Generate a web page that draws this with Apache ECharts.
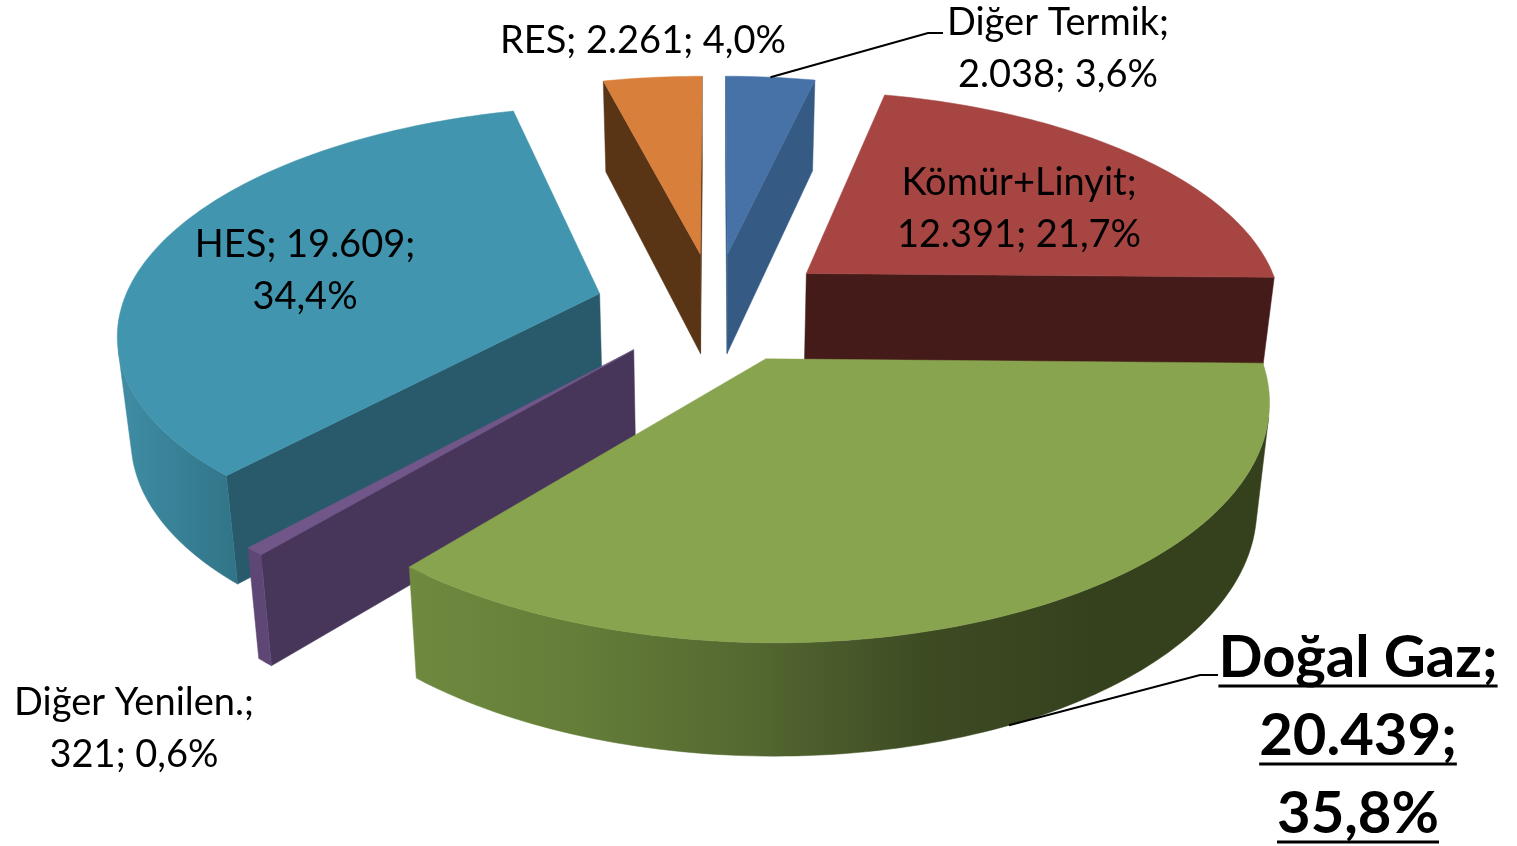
<!DOCTYPE html>
<html>
<head>
<meta charset="utf-8">
<title>Kurulu güç</title>
<style>
  html, body { margin: 0; padding: 0; background: #fff; }
  #main { width: 1517px; height: 846px; }
</style>
<script src="https://cdn.jsdelivr.net/npm/echarts@6/dist/echarts.min.js"></script>
</head>
<body>
<div id="main"></div>
<script>
const categories = ['Diğer Termik', 'Kömür+Linyit', 'Doğal Gaz', 'Diğer Yenilen.', 'HES', 'RES']
const values = [2038, 12391, 20439, 321, 19609, 2261]
const valueLabels = ['2.038', '12.391', '20.439', '321', '19.609', '2.261']
const percentLabels = ['3,6%', '21,7%', '35,8%', '0,6%', '34,4%', '4,0%']

// colours per slice: top, cut face, outer wall gradient
const topColors = ['#4672A8', '#A64542', '#89A44E', '#715689', '#4195AE', '#D8803B']
const cutColors = ['#355B85', '#451B1A', '#3A461F', '#47365A', '#285A6B', '#593516']
const wallColors = [
  ['#355B85', '#355B85'],
  ['#451B1A', '#451B1A'],
  ['#6F8A3F', '#647D38', '#546831', '#3D4B23', '#35411D', '#35411D'],
  ['#5E4775', '#5E4775'],
  ['#3F8DA5', '#317487'],
  ['#593516', '#593516']
]

// label layout: centre x, centre y of first line, how the tokens split on lines
const labelLayout = [
  { x: 1058, y: 22.5, lines: [[0], [1, 2]], size: 38 },
  { x: 1019, y: 182.5, lines: [[0], [1, 2]], size: 38 },
  { x: 1358, y: 658, lines: [[0], [1], [2]], size: 58, bold: true, lineH: 78 },
  { x: 134, y: 702.5, lines: [[0], [1, 2]], size: 38 },
  { x: 305, y: 244.5, lines: [[0, 1], [2]], size: 38 },
  { x: 643, y: 40.5, lines: [[0, 1, 2]], size: 38 }
]
const leaderElbows = { 0: [[928, 33], [943, 33]], 2: [[1200, 675], [1218, 675]] }

// projection of the tilted pie
const cx = 714.5
const cy = 331
const radiusX = 486
const radiusY = 228.6
const persp = 0.16
const explode = 0.25
const centerV = -0.108
const depthBase = 161
const depthSlope = 58
const bottomShrink = 0.977

const total = values.reduce((a, b) => a + b, 0)
const angles = []
let acc = 0
values.forEach(v => {
  const start = acc / total * Math.PI * 2
  acc += v
  angles.push([start, acc / total * Math.PI * 2])
})

function project(u, v) {
  const w = 1 - persp * v
  return { x: cx + radiusX * u / w, y: cy + radiusY * v / w, w: w }
}
function topPoint(p) {
  return [p.x, p.y]
}
function bottomPoint(p) {
  return [cx + (p.x - cx) * bottomShrink, p.y + depthBase - depthSlope * p.w]
}
function sliceApex(i) {
  const mid = (angles[i][0] + angles[i][1]) / 2
  return [explode * Math.sin(mid), centerV - explode * Math.cos(mid)]
}
function rimAt(i, a) {
  const apex = sliceApex(i)
  return project(apex[0] + Math.sin(a), apex[1] - Math.cos(a))
}
function area(pts) {
  let s = 0
  pts.forEach((p, k) => {
    const q = pts[(k + 1) % pts.length]
    s += p[0] * q[1] - q[0] * p[1]
  })
  return s / 2
}
function poly(points, fill) {
  return {
    type: 'polygon',
    shape: { points: points },
    style: { fill: fill, stroke: fill, lineWidth: 0.5 }
  }
}
function wallFill(stops) {
  return new echarts.graphic.LinearGradient(0, 0, 1, 0,
    stops.map((c, k) => ({ offset: k / (stops.length - 1), color: c })))
}

function renderSlice(params, api) {
  const i = api.value(0)
  const apexP = sliceApex(i)
  const apex = project(apexP[0], apexP[1])
  const start = angles[i][0]
  const end = angles[i][1]
  const steps = Math.max(4, Math.ceil((end - start) / 0.02))
  const rim = []
  for (let k = 0; k <= steps; k++) {
    rim.push(rimAt(i, start + (end - start) * k / steps))
  }
  const children = []

  // cut faces, only those turned to the viewer
  const cutStart = [topPoint(apex), topPoint(rim[0]), bottomPoint(rim[0]), bottomPoint(apex)]
  const cutEnd = [topPoint(rim[steps]), topPoint(apex), bottomPoint(apex), bottomPoint(rim[steps])]
  if (area(cutStart) < 0) children.push(poly(cutStart, cutColors[i]))
  if (area(cutEnd) < 0) children.push(poly(cutEnd, cutColors[i]))

  // outer wall
  let tops = []
  let bots = []
  const flush = () => {
    if (tops.length > 1) {
      children.push(poly(tops.concat(bots.slice().reverse()), wallFill(wallColors[i])))
    }
    tops = []
    bots = []
  }
  for (let k = 0; k < steps; k++) {
    const a = topPoint(rim[k])
    const b = topPoint(rim[k + 1])
    const c = bottomPoint(rim[k + 1])
    const d = bottomPoint(rim[k])
    if (area([a, b, c, d]) < 0) {
      if (!tops.length) {
        tops.push(a)
        bots.push(d)
      }
      tops.push(b)
      bots.push(c)
    } else {
      flush()
    }
  }
  flush()

  children.push(poly([topPoint(apex)].concat(rim.map(topPoint)), topColors[i]))
  return { type: 'group', children: children }
}

function fontOf(l) {
  return (l.bold ? 'bold ' : '') + l.size + 'px Lato, sans-serif'
}
const measure = document.createElement('canvas').getContext('2d')

function renderLabel(params, api) {
  const i = api.value(0)
  const l = labelLayout[i]
  const tokens = [categories[i], valueLabels[i], percentLabels[i]]
  const lineH = l.lineH || 52
  const children = []
  l.lines.forEach((line, n) => {
    const text = line.map(t => tokens[t]).join('; ') + (line[line.length - 1] < 2 ? ';' : '')
    const y = l.y + n * lineH
    children.push({
      type: 'text',
      style: { text: text, x: l.x, y: y, fill: '#000', font: fontOf(l), align: 'center', verticalAlign: 'middle' }
    })
    if (l.bold) {
      measure.font = fontOf(l)
      const w = measure.measureText(text).width
      children.push({
        type: 'line',
        shape: { x1: l.x - w / 2, y1: y + 28, x2: l.x + w / 2, y2: y + 28 },
        style: { stroke: '#000', lineWidth: 3 }
      })
    }
  })
  if (leaderElbows[i]) {
    const mid = (angles[i][0] + angles[i][1]) / 2
    const r = rimAt(i, mid)
    // the line of the front slice starts on the lower edge of its wall
    const from = i === 2 ? bottomPoint(r) : topPoint(r)
    children.push({
      type: 'polyline',
      shape: { points: [from].concat(leaderElbows[i]) },
      style: { stroke: '#000', lineWidth: 2, fill: null }
    })
  }
  return { type: 'group', children: children }
}

// back slices first so that nearer ones cover them
const drawOrder = categories.map((c, i) => i).sort((a, b) => sliceApex(a)[1] - sliceApex(b)[1])

const chart = echarts.init(document.getElementById('main'))
chart.setOption({
  backgroundColor: '#fff',
  animation: false,
  series: [
    {
      type: 'custom',
      coordinateSystem: 'none',
      silent: true,
      renderItem: renderSlice,
      data: drawOrder.map(i => [i])
    },
    {
      type: 'custom',
      coordinateSystem: 'none',
      silent: true,
      renderItem: renderLabel,
      data: categories.map((c, i) => [i])
    }
  ]
})
</script>
</body>
</html>
